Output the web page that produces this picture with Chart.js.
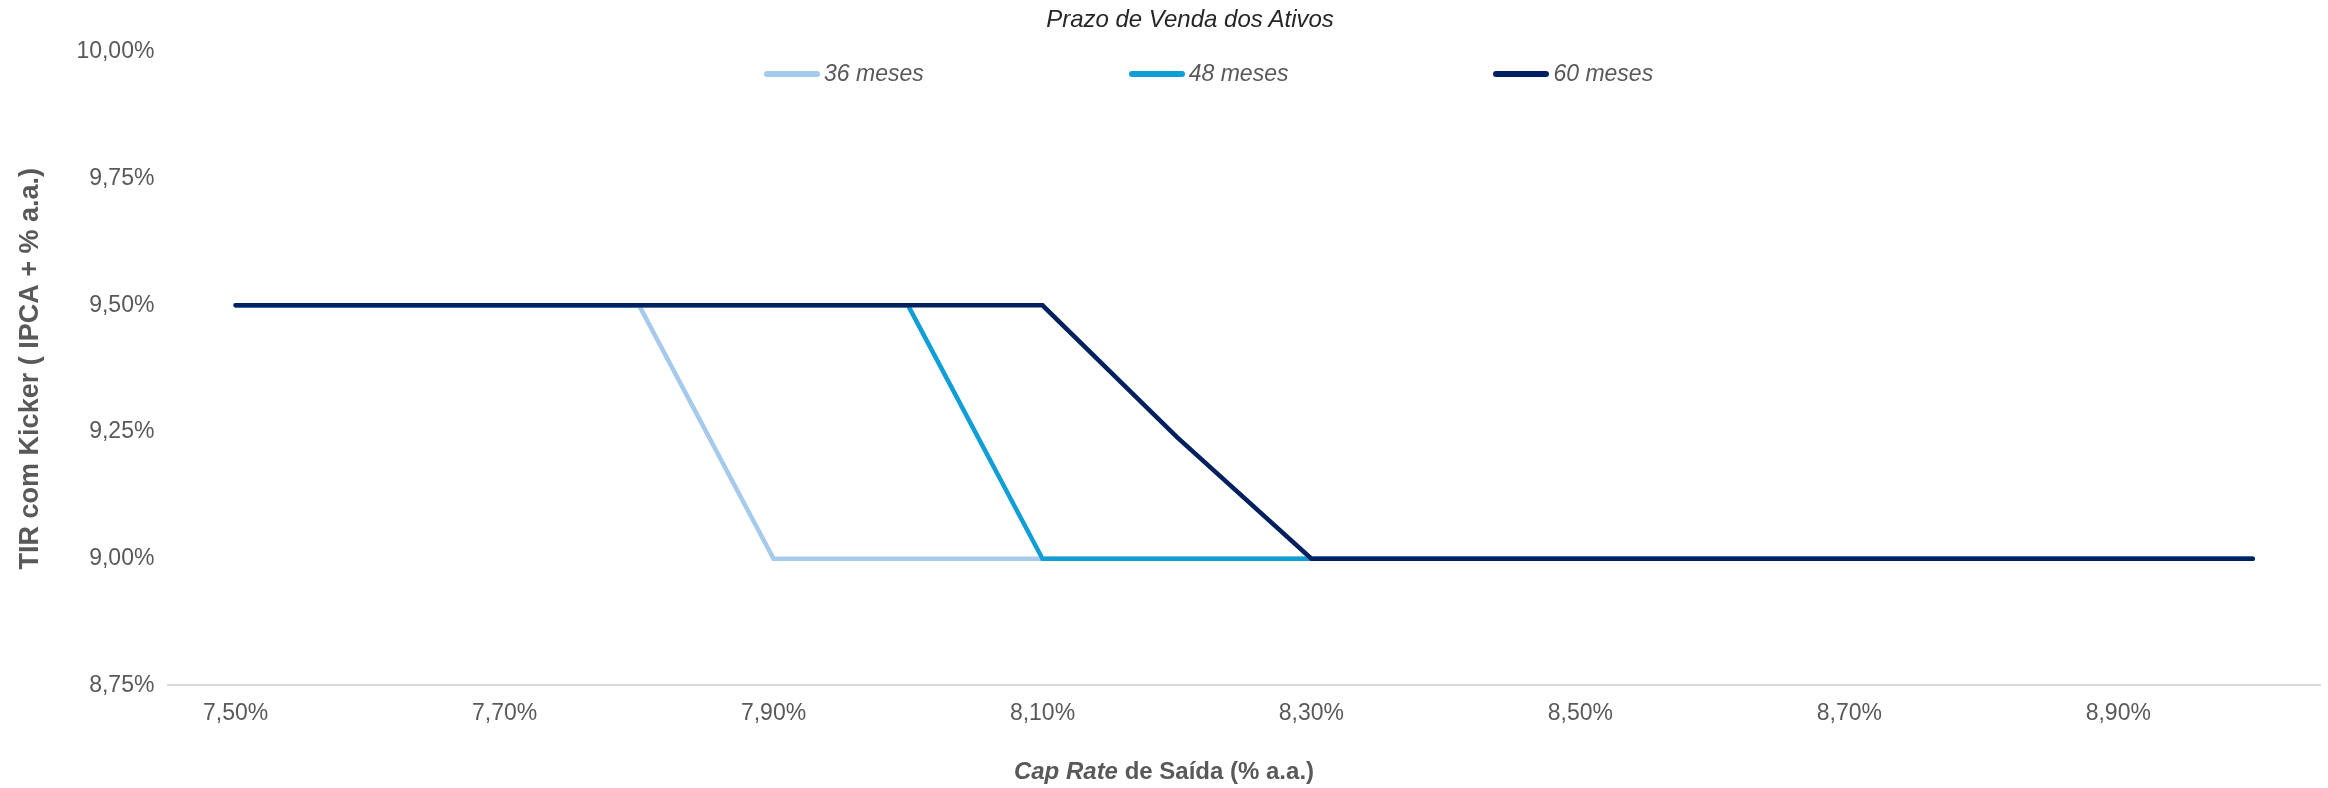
<!DOCTYPE html>
<html>
<head>
<meta charset="utf-8">
<script src="https://cdn.jsdelivr.net/npm/chart.js@4.4.1/dist/chart.umd.min.js"></script>
<style>
  html, body { margin: 0; padding: 0; background: #fff; }
  #wrap { position: relative; width: 2328px; height: 788px; font-family: "Liberation Sans", Arial, sans-serif; }
  #title { position: absolute; left: 0; width: 2380px; top: 5px; text-align: center;
           font-style: italic; font-size: 24px; color: #262626; }
  #legend { position: absolute; left: 764px; top: 60px; display: flex; gap: 205px; }
  .item { display: flex; align-items: center; font-style: italic; font-size: 23px; color: #595959; }
  .swatch { width: 56px; height: 6px; border-radius: 3px; margin-right: 4px; }
  #xtitle { position: absolute; left: 0; width: 2328px; top: 757px; text-align: center;
            font-weight: bold; font-size: 24px; color: #595959; }
</style>
</head>
<body>
<div id="wrap">
  <canvas id="tirChart" width="2328" height="788"></canvas>
  <div id="title">Prazo de Venda dos Ativos</div>
  <div id="legend"></div>
  <div id="xtitle"><i>Cap Rate</i> de Saída (% a.a.)</div>
</div>
<script>
// Cap rate de saída (eixo x)
const capRates = ['7,50%', '7,60%', '7,70%', '7,80%', '7,90%', '8,00%', '8,10%', '8,20%',
                  '8,30%', '8,40%', '8,50%', '8,60%', '8,70%', '8,80%', '8,90%', '9,00%'];

// TIR com kicker por prazo de venda
const tir36 = [9.5, 9.5, 9.5, 9.5, 9.0, 9.0, 9.0, 9.0, 9.0, 9.0, 9.0, 9.0, 9.0, 9.0, 9.0, 9.0];
const tir48 = [9.5, 9.5, 9.5, 9.5, 9.5, 9.5, 9.0, 9.0, 9.0, 9.0, 9.0, 9.0, 9.0, 9.0, 9.0, 9.0];
const tir60 = [9.5, 9.5, 9.5, 9.5, 9.5, 9.5, 9.5, 9.24, 9.0, 9.0, 9.0, 9.0, 9.0, 9.0, 9.0, 9.0];

const seriesNames = ['36 meses', '48 meses', '60 meses'];
const seriesColors = ['#a6caec', '#0f9ed5', '#002060'];

const yMin = 8.75;
const yMax = 10;
const yStep = 0.25;

const FONT = '"Liberation Sans", Arial, sans-serif';
const GRAY = '#595959';

function pct(v) {
  return v.toFixed(2).replace('.', ',') + '%';
}

const ctx = document.getElementById('tirChart');

new Chart(ctx, {
  type: 'line',
  data: {
    labels: capRates,
    datasets: [tir36, tir48, tir60].map((values, i) => ({
      label: seriesNames[i],
      data: values,
      borderColor: seriesColors[i],
      backgroundColor: seriesColors[i],
      borderWidth: 4.5,
      borderCapStyle: 'round',
      pointRadius: 0,
      tension: 0,
      order: 3 - i
    }))
  },
  options: {
    responsive: false,
    animation: false,
    layout: {
      padding: { left: 14, right: 8, top: 52, bottom: 55 }
    },
    plugins: {
      legend: { display: false },
      tooltip: { enabled: false }
    },
    scales: {
      x: {
        offset: true,
        grid: { display: false },
        border: { display: true, color: '#d9d9d9', width: 2 },
        ticks: {
          color: GRAY,
          padding: 6,
          autoSkip: false,
          maxRotation: 0,
          font: { family: FONT, size: 23 },
          // só rótulos alternados, como no original
          callback: (val, i) => (i % 2 === 0 && i < capRates.length - 1) ? capRates[i] : ''
        }
      },
      y: {
        min: yMin,
        max: yMax,
        grid: { display: false },
        border: { display: false },
        ticks: {
          stepSize: yStep,
          color: GRAY,
          padding: 6,
          font: { family: FONT, size: 23 },
          callback: v => pct(v)
        },
        title: {
          display: true,
          text: 'TIR com Kicker ( IPCA + % a.a.)',
          color: GRAY,
          font: { family: FONT, size: 27, weight: 'bold' },
          padding: { top: 0, bottom: 24 }
        }
      }
    }
  }
});

// Legenda em HTML (itens bem espaçados como no original)
const legend = document.getElementById('legend');
seriesNames.forEach((name, i) => {
  const item = document.createElement('div');
  item.className = 'item';
  item.innerHTML = '<span class="swatch" style="background:' + seriesColors[i] + '"></span>' + name;
  legend.appendChild(item);
});
</script>
</body>
</html>
